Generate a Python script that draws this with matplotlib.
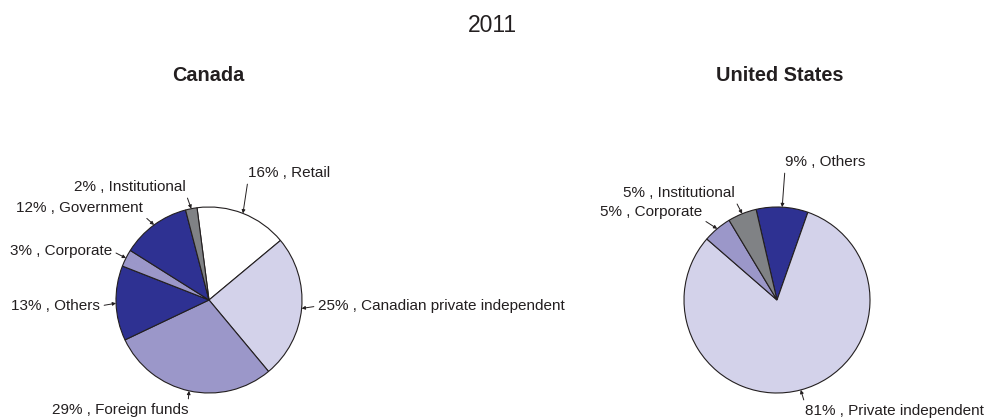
import numpy as np
import matplotlib.pyplot as plt

plt.rcParams['font.family'] = ['Liberation Sans', 'DejaVu Sans']

# Canada, clockwise from the top
ca_labels = ["Retail", "Canadian private independent", "Foreign funds",
             "Others", "Corporate", "Government", "Institutional"]
ca_values = [16, 25, 29, 13, 3, 12, 2]

# United States, clockwise from the top
us_labels = ["Others", "Private independent", "Corporate", "Institutional"]
us_values = [9, 81, 5, 5]

DARK = "#2E3192"
MID = "#9B97C9"
LIGHT = "#D3D2EA"
GREY = "#808285"
ca_colors = ["white", LIGHT, MID, DARK, MID, DARK, GREY]
us_colors = [DARK, LIGHT, MID, GREY]

W, H = 988, 419
R = 93  # pie radius in pixels
PAD = 1.05
INK = "#231F20"


def pie_axes(fig, cx, cy):
    # cx, cy in pixels from the top-left corner
    half = R * PAD
    left = (cx - half) / W
    bottom = (H - cy - half) / H
    return fig.add_axes([left, bottom, 2 * half / W, 2 * half / H])


def draw_pie(ax, values, colors, start, labels, spots):
    wedges, _ = ax.pie(values, colors=colors, startangle=start,
                       counterclock=False, radius=1,
                       wedgeprops=dict(edgecolor=INK, linewidth=0.8))
    for w in wedges:
        w.set_clip_on(False)
    ax.set_xlim(-PAD, PAD)
    ax.set_ylim(-PAD, PAD)
    ax.set_aspect("auto")
    ax.axis("off")
    for w, val, lab, (tx, ty, ha, rel) in zip(wedges, values, labels, spots):
        ang = np.deg2rad((w.theta1 + w.theta2) / 2)
        ax.annotate(f"{val}% , {lab}", xy=(np.cos(ang), np.sin(ang)),
                    xytext=(tx, H - ty), textcoords="figure pixels",
                    ha=ha, va="center", fontsize=11, color=INK,
                    annotation_clip=False,
                    arrowprops=dict(arrowstyle="-|>", color=INK,
                                    lw=0.7, mutation_scale=5,
                                    shrinkA=1, shrinkB=0, relpos=rel))


fig = plt.figure(figsize=(W / 100, H / 100), dpi=100)

fig.text(492 / W, 1 - 25 / H, "2011", ha="center", va="center",
         fontsize=16.5, color=INK)
fig.text(208 / W, 1 - 75 / H, "Canada", ha="center", va="center",
         fontsize=14.3, fontweight="bold", color=INK)
fig.text(780 / W, 1 - 75 / H, "United States", ha="center", va="center",
         fontsize=14.3, fontweight="bold", color=INK)

ax1 = pie_axes(fig, 209, 300)
draw_pie(ax1, ca_values, ca_colors, 97.4, ca_labels, [
    (248, 173, "left", (0.0, 0.0)),
    (318, 306, "left", (0.0, 0.5)),
    (188, 410, "right", (1.0, 1.0)),
    (100, 306, "right", (1.0, 0.5)),
    (112, 251, "right", (1.0, 0.5)),
    (143, 208, "right", (1.0, 0.0)),
    (186, 187, "right", (1.0, 0.0)),
])

ax2 = pie_axes(fig, 777, 300)
draw_pie(ax2, us_values, us_colors, 103.0, us_labels, [
    (785, 162, "left", (0.0, 0.0)),
    (805, 411, "left", (0.0, 1.0)),
    (702, 212, "right", (1.0, 0.0)),
    (735, 193, "right", (1.0, 0.0)),
])

fig.savefig("out.png", dpi=100)
